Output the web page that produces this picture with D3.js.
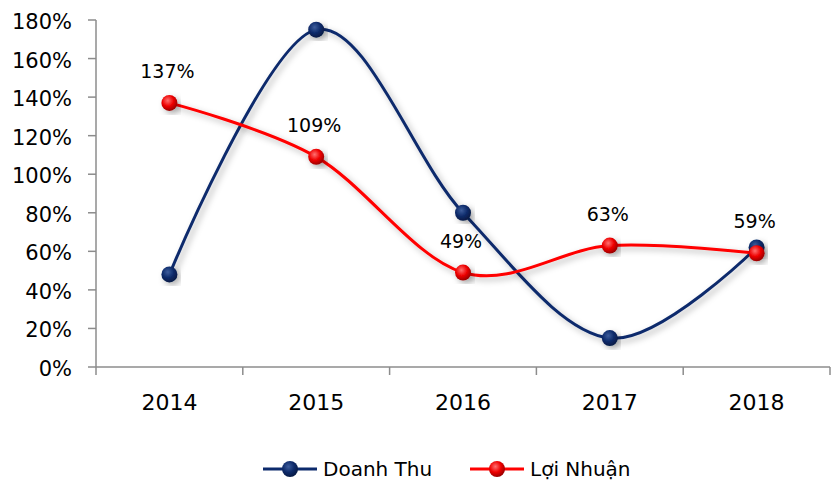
<!DOCTYPE html>
<html>
<head>
<meta charset="utf-8">
<script src="https://cdn.jsdelivr.net/npm/d3@7"></script>
<style>
  body { margin: 0; background: #fff; }
  svg { display: block; font-family: "DejaVu Sans", Verdana, sans-serif; }
</style>
</head>
<body>
<svg id="chart" width="834" height="481"></svg>
<script>
// Chart data
const years = ["2014", "2015", "2016", "2017", "2018"];
const doanhThu = [48, 175, 80, 15, 62];
const loiNhuan = [137, 109, 49, 63, 59];
const yTicks = [0, 20, 40, 60, 80, 100, 120, 140, 160, 180];
const seriesNames = ["Doanh Thu", "Lợi Nhuận"];

const width = 834, height = 481;
const margin = { left: 96, right: 4, top: 20, bottom: 114 };

const svg = d3.select("#chart");

const x = d3.scalePoint()
    .domain(years)
    .range([margin.left, width - margin.right])
    .padding(0.5);

const y = d3.scaleLinear()
    .domain([0, 180])
    .range([height - margin.bottom, margin.top]);

const defs = svg.append("defs");

// soft grey shadow behind lines and markers
const shadow = defs.append("filter")
    .attr("id", "shadow")
    .attr("x", "-20%").attr("y", "-20%")
    .attr("width", "140%").attr("height", "140%");
shadow.append("feDropShadow")
    .attr("dx", 3).attr("dy", 3)
    .attr("stdDeviation", 3)
    .attr("flood-color", "#000")
    .attr("flood-opacity", 0.3);

// sphere gradients for markers
function sphere(id, light, mid, dark) {
    const g = defs.append("radialGradient")
        .attr("id", id)
        .attr("cx", "40%").attr("cy", "35%").attr("r", "65%");
    g.append("stop").attr("offset", "0%").attr("stop-color", light);
    g.append("stop").attr("offset", "55%").attr("stop-color", mid);
    g.append("stop").attr("offset", "100%").attr("stop-color", dark);
}
sphere("ballBlue", "#3d5d9c", "#0e2b6b", "#061a45");
sphere("ballRed", "#ff7070", "#ee0000", "#9a0000");

const series = [
    { name: seriesNames[0], values: doanhThu, color: "#0c2a6c", fill: "url(#ballBlue)" },
    { name: seriesNames[1], values: loiNhuan, color: "#ff0000", fill: "url(#ballRed)" }
];

/* ------- AXES ------- */
const axisColor = "#8c8c8c";

const yAxis = svg.append("g").attr("class", "y-axis");
yAxis.append("line")
    .attr("x1", margin.left).attr("x2", margin.left)
    .attr("y1", y(180)).attr("y2", y(0) + 8)
    .attr("stroke", axisColor).attr("stroke-width", 1.5);
yAxis.selectAll("line.tick")
    .data(yTicks)
    .join("line")
    .attr("class", "tick")
    .attr("x1", margin.left - 8).attr("x2", margin.left)
    .attr("y1", d => y(d)).attr("y2", d => y(d))
    .attr("stroke", axisColor).attr("stroke-width", 1.5);
yAxis.selectAll("text")
    .data(yTicks)
    .join("text")
    .attr("x", 72)
    .attr("y", d => y(d) + 9)
    .attr("text-anchor", "end")
    .attr("font-size", 21)
    .attr("fill", "#000")
    .text(d => d + "%");

const step = x.step();
const xAxis = svg.append("g").attr("class", "x-axis");
xAxis.append("line")
    .attr("x1", margin.left).attr("x2", width - margin.right)
    .attr("y1", y(0)).attr("y2", y(0))
    .attr("stroke", axisColor).attr("stroke-width", 1.5);
xAxis.selectAll("line.tick")
    .data(years)
    .join("line")
    .attr("class", "tick")
    .attr("x1", d => x(d) + step / 2).attr("x2", d => x(d) + step / 2)
    .attr("y1", y(0)).attr("y2", y(0) + 8)
    .attr("stroke", axisColor).attr("stroke-width", 1.5);
xAxis.selectAll("text")
    .data(years)
    .join("text")
    .attr("x", d => x(d))
    .attr("y", 410)
    .attr("text-anchor", "middle")
    .attr("font-size", 22)
    .attr("fill", "#000")
    .text(d => d);

/* ------- LINES ------- */
const line = d3.line()
    .x((d, i) => x(years[i]))
    .y(d => y(d))
    .curve(d3.curveCardinal.tension(0));

const plot = svg.append("g").attr("class", "plot");

series.forEach(s => {
    plot.append("path")
        .datum(s.values)
        .attr("d", line)
        .attr("fill", "none")
        .attr("stroke", s.color)
        .attr("stroke-width", 3)
        .attr("filter", "url(#shadow)");
});

series.forEach(s => {
    plot.append("g")
        .selectAll("circle")
        .data(s.values)
        .join("circle")
        .attr("cx", (d, i) => x(years[i]))
        .attr("cy", d => y(d))
        .attr("r", 8)
        .attr("fill", s.fill)
        .attr("filter", "url(#shadow)");
});

// data labels for profit series
plot.append("g")
    .selectAll("text")
    .data(loiNhuan)
    .join("text")
    .attr("x", (d, i) => x(years[i]) - 2)
    .attr("y", d => y(d) - 25)
    .attr("text-anchor", "middle")
    .attr("font-size", 19)
    .attr("fill", "#000")
    .text(d => d + "%");

/* ------- LEGEND ------- */
const legendY = 469;
const legendX = [263, 470];
const legend = svg.append("g").attr("class", "legend");
series.forEach((s, i) => {
    const g = legend.append("g").attr("transform", `translate(${legendX[i]},${legendY})`);
    g.append("line")
        .attr("x1", 0).attr("x2", 54)
        .attr("y1", 0).attr("y2", 0)
        .attr("stroke", s.color).attr("stroke-width", 3);
    g.append("circle")
        .attr("cx", 27).attr("cy", 0).attr("r", 8)
        .attr("fill", s.fill);
    g.append("text")
        .attr("x", 60).attr("y", 7)
        .attr("font-size", 20)
        .attr("fill", "#000")
        .text(s.name);
});
</script>
</body>
</html>
